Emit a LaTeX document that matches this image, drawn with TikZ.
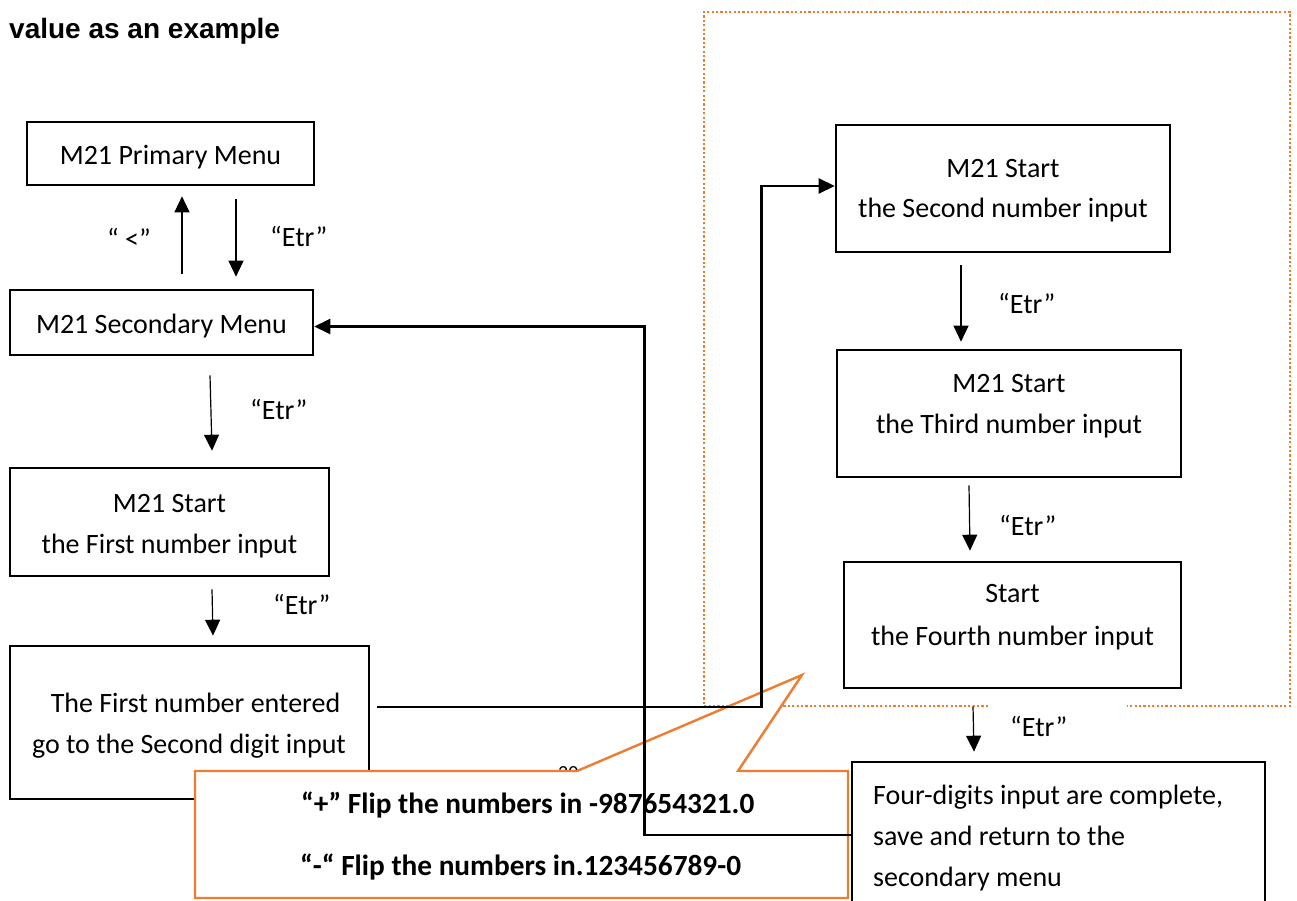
\documentclass[tikz,border=0pt]{standalone}
\usepackage{fontspec}
\setmainfont{Carlito}
\newfontfamily\titlefont{Liberation Sans}
\usetikzlibrary{arrows.meta,calc}
\definecolor{callorange}{HTML}{ED7D31}
\begin{document}
\begin{tikzpicture}[x=1pt,y=-1pt,
  box/.style={draw=black, line width=2.6pt, inner sep=0pt},
  txt/.style={inner sep=0pt, anchor=base, font=\fontsize{28}{34}\selectfont},
  ltxt/.style={inner sep=0pt, anchor=base west, font=\fontsize{28}{34}\selectfont},
  btxt/.style={inner sep=0pt, anchor=base west, font=\bfseries\fontsize{29.3}{35}\selectfont},
  thinarr/.style={line width=1.2pt, -{Triangle[length=16pt,width=15pt]}},
  connarr/.style={line width=2.5pt, -{Triangle[length=16pt,width=15pt]}},
  dotline/.style={callorange, line width=2.2pt, dash pattern=on 2.2pt off 2.2pt}
]
\useasboundingbox (0,0) rectangle (1297,901);

% title
\node[inner sep=0pt, anchor=base west, font=\titlefont\bfseries\fontsize{28}{34}\selectfont] (title) at (9,39) {value as an example};

% boxes
\node[box, minimum width=287pt, minimum height=63pt] (prim) at (170.5,153.5) {};
\node[box, minimum width=303pt, minimum height=65pt] (sec) at (161.5,322.5) {};
\node[box, minimum width=319pt, minimum height=108pt] (first) at (169.5,522) {};
\node[box, minimum width=359pt, minimum height=153pt] (entered) at (189.5,722.5) {};
\node[box, minimum width=334pt, minimum height=127pt] (second) at (1003,188.5) {};
\node[box, minimum width=344pt, minimum height=127pt] (third) at (1009,413.5) {};
\node[box, minimum width=337pt, minimum height=126pt] (fourth) at (1012.5,625) {};
\node[box, minimum width=413pt, minimum height=158pt] (four) at (1058.5,841) {};

% box texts
\node[txt] (primT) at (170.5,165) {M21 Primary Menu};
\node[txt] (secT) at (161.5,333) {M21 Secondary Menu};
\node[txt] (firstA) at (169.5,512) {M21 Start};
\node[txt] (firstB) at (169.5,553) {the First number input};
\node[txt] (enteredA) at (195.5,712) {The First number entered};
\node[txt] (enteredB) at (189,753) {go to the Second digit input};
\node[txt] (secondA) at (1003,178) {M21 Start};
\node[txt] (secondB) at (1003,218) {the Second number input};
\node[txt] (thirdA) at (1009,392) {M21 Start};
\node[txt] (thirdB) at (1009,433) {the Third number input};
\node[txt] (fourthA) at (1012.5,602) {Start};
\node[txt] (fourthB) at (1012.5,645) {the Fourth number input};
\node[ltxt] (fourA) at (873,804) {Four-digits input are complete,};
\node[ltxt] (fourB) at (873,845) {save and return to the};
\node[ltxt] (fourC) at (873,886) {secondary menu};

% labels
\node[ltxt] (lback) at (107,248) {“ <”};
\node[ltxt] (le1) at (270,247) {“Etr”};
\node[ltxt] (le2) at (250,419) {“Etr”};
\node[ltxt] (le3) at (273,614) {“Etr”};
\node[ltxt] (le4) at (998,313) {“Etr”};
\node[ltxt] (le5) at (999,535) {“Etr”};
\node[ltxt] (le6) at (1010,736) {“Etr”};

% dotted group frame
\draw[dotline] (988,706) -- (704,706) -- (704,12) -- (1290,12) -- (1290,706) -- (1127,706);

% page number partly hidden
\node[inner sep=0pt, anchor=base west, font=\fontsize{20}{24}\selectfont] (pagenum) at (558,779) {20};

% callout
\draw[callorange, line width=2.4pt, fill=white] (195,771) -- (577,771) -- (802,675) -- (738,771) -- (848,771) -- (848,898) -- (195,898) -- cycle;
\node[btxt] (callA) at (301,813) {“+” Flip the numbers in -987654321.0};
\node[btxt] (callB) at (300,875) {“-“ Flip the numbers in.123456789-0};

% vertical arrows
\draw[thinarr] ($(sec.north)+(20.5,-15)$) -- ($(prim.south)+(11.5,10)$);
\draw[thinarr] ($(prim.south)+(65.5,13)$) -- ($(sec.north)+(74.5,-12)$);
\draw[thinarr] ($(sec.south)+(48.5,19)$) -- ($(first.north)+(42.5,-16)$);
\draw[thinarr] ($(first.south)+(42.5,12)$) -- ($(entered.north)+(23.5,-9)$);
\draw[thinarr] ($(second.south)+(-42,12)$) -- ($(third.north)+(-48,-7)$);
\draw[thinarr] ($(third.south)+(-40,7)$) -- ($(fourth.north)+(-42.5,-10)$);
\draw[thinarr] ($(fourth.south)+(-39.5,17)$) -- ($(four.north)+(-84.5,-9)$);

% elbow connectors
\draw[connarr] ($(entered.east)+(7,-15.5)$) -- ++(384,0) |- ($(second.west)+(0,-2.5)$);
\draw[connarr] ($(four.west)+(0,-6)$) -- ++(-206,0) |- ($(sec.east)+(0,4)$);
\end{tikzpicture}
\end{document}
